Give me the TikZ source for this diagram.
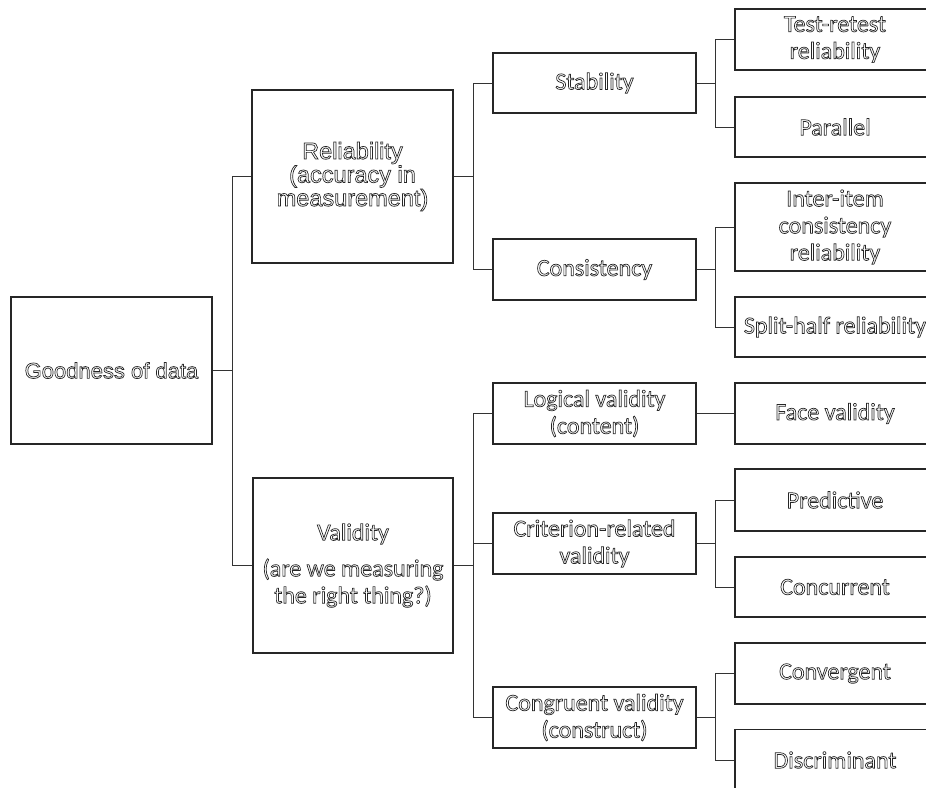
\documentclass[tikz,border=0pt]{standalone}
\usepackage{fontspec}
\setmainfont{Carlito}
\newfontfamily\arialf{Liberation Sans}
\newcommand\outlinetext{\special{pdf:code 1 Tr 0.7 w}}
\tikzset{
  box/.style={draw=black!85, line width=1.1pt, rectangle, inner sep=0pt, align=center,
    font=\fontsize{24}{27}\selectfont\outlinetext, text=black!85},
  abox/.style={box, font=\arialf\fontsize{22}{23}\selectfont\outlinetext},
  link/.style={draw=black!80, line width=0.9pt},
}
\begin{document}
\begin{tikzpicture}[x=1pt,y=-1pt]
\useasboundingbox (0,0) rectangle (926,787);
\clip (0,0) rectangle (926,787);
% level 0
\node[abox, minimum width=201, minimum height=147] (G) at (111.5,370.5) {Goodness of data};
% level 1
\node[abox, minimum width=201, minimum height=173, font=\arialf\fontsize{23.5}{23.5}\selectfont\outlinetext] (R) at (352.5,176.5) {Reliability\\(accuracy in\\measurement)};
\node[box, minimum width=200, minimum height=175] (V) at (353,565.5) {Validity\\[9pt](are we measuring\\the right thing?)};
% level 2
\node[box, minimum width=203, minimum height=60] (S) at (594.5,83) {Stability};
\node[box, minimum width=203, minimum height=61] (C) at (594.5,269.5) {Consistency};
\node[box, minimum width=203, minimum height=61] (L) at (594.5,413.5) {Logical validity\\(content)};
\node[box, minimum width=203, minimum height=61] (K) at (594.5,543.5) {Criterion-related\\validity};
\node[box, minimum width=203, minimum height=61] (N) at (594.5,717.5) {Congruent validity\\(construct)};
% level 3
\node[box, minimum width=200, minimum height=61] (TR) at (835,39.5) {Test-retest\\reliability};
\node[box, minimum width=200, minimum height=60] (PA) at (835,127) {Parallel};
\node[box, minimum width=200, minimum height=88] (II) at (835,227) {Inter-item\\consistency\\reliability};
\node[box, minimum width=200, minimum height=60] (SH) at (835,327) {Split-half reliability};
\node[box, minimum width=200, minimum height=61] (FV) at (835,413.5) {Face validity};
\node[box, minimum width=200, minimum height=62] (PR) at (835,500) {Predictive};
\node[box, minimum width=200, minimum height=60] (CC) at (835,587) {Concurrent};
\node[box, minimum width=200, minimum height=61] (CV) at (835,673.5) {Convergent};
\node[box, minimum width=200, minimum height=61] (DI) at (835,760) {Discriminant};
% junctions
\coordinate (j1) at (232,370.5);
\coordinate (j2) at (473,176.5);
\coordinate (j3) at (473,565.5);
\coordinate (j4) at (715,83);
\coordinate (j5) at (715,269.5);
\coordinate (j6) at (715,543.5);
\coordinate (j7) at (715,717.5);
% connectors
\draw[link] (G.east) -- (j1);
\draw[link] (R.west) -| (j1);
\draw[link] (V.west) -| (j1);
\draw[link] (R.east) -- (j2);
\draw[link] (S.west) -| (j2);
\draw[link] (C.west) -| (j2);
\draw[link] (V.east) -- (j3);
\draw[link] (L.west) -| (j3);
\draw[link] (K.west) -| (j3);
\draw[link] (N.west) -| (j3);
\draw[link] (S.east) -- (j4);
\draw[link] (TR.west) -| (j4);
\draw[link] (PA.west) -| (j4);
\draw[link] (C.east) -- (j5);
\draw[link] (II.west) -| (j5);
\draw[link] (SH.west) -| (j5);
\draw[link] (L.east) -- (FV.west);
\draw[link] (K.east) -- (j6);
\draw[link] (PR.west) -| (j6);
\draw[link] (CC.west) -| (j6);
\draw[link] (N.east) -- (j7);
\draw[link] (CV.west) -| (j7);
\draw[link] (DI.west) -| (j7);
\end{tikzpicture}
\end{document}
